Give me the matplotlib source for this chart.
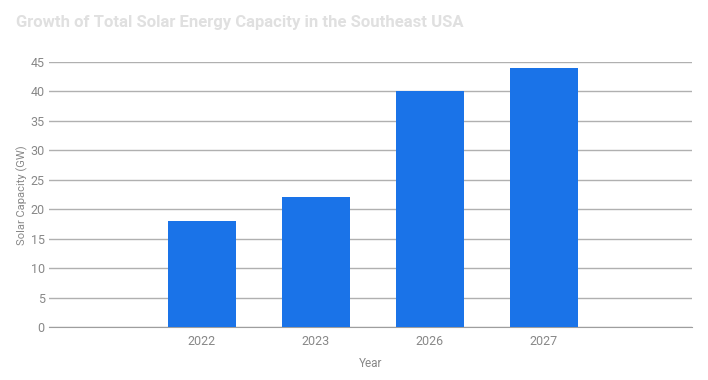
import matplotlib
matplotlib.use('Agg')
import matplotlib.pyplot as plt

years = ['2022', '2023', '2026', '2027']
capacity = [18, 22, 40, 44]
yticks = [0, 5, 10, 15, 20, 25, 30, 35, 40, 45]

plt.rcParams['font.family'] = ['Roboto', 'DejaVu Sans']

fig = plt.figure(figsize=(7.08, 3.8), dpi=100)
ax = fig.add_axes([49/708, 1-327/380, (692-49)/708, (327-62)/380])

x = list(range(len(years)))
ax.bar(x, capacity, width=0.6, color='#1a73e8', zorder=3)

ax.set_xlim(-1.34, 4.30)
ax.set_ylim(0, 45)
ax.set_yticks(yticks)
ax.set_xticks(x)
ax.set_xticklabels(years)
ax.grid(axis='y', color='#b0b0b0', linewidth=1, zorder=0)
for s in ['top', 'right', 'left']:
    ax.spines[s].set_visible(False)
ax.spines['bottom'].set_color('#9e9e9e')
ax.tick_params(axis='both', length=0, labelsize=9, colors='#888888')
ax.tick_params(axis='y', pad=3)
ax.tick_params(axis='x', pad=6)

ax.set_xlabel('Year', fontsize=8.5, color='#888888', labelpad=6)
fig.text(22/708, 1-195/380, 'Solar Capacity (GW)', rotation=90, fontsize=8,
         color='#888888', ha='center', va='center')
fig.text(16/708, 1-22/380, 'Growth of Total Solar Energy Capacity in the Southeast USA',
         fontsize=12, fontweight='bold', color='#e0e0e0', ha='left', va='center')

fig.savefig('out.png', dpi=100)
